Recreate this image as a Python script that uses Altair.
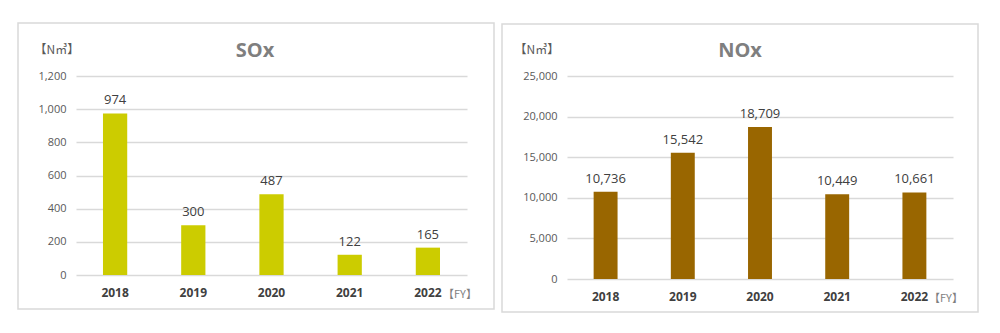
import altair as alt
import pandas as pd

years = ["2018", "2019", "2020", "2021", "2022"]
sox = [974, 300, 487, 122, 165]
nox = [10736, 15542, 18709, 10449, 10661]

FONT = "Open Sans"
CJK = "Noto Sans CJK JP"
GRID = "#d9d9d9"


def panel(values, title, color, ymax, ystep, width, height, border, unit_x, title_x):
    df = pd.DataFrame({"year": years, "value": values})
    base = alt.Chart(df)
    x = alt.X("year:N", sort=years, title=None,
              scale=alt.Scale(paddingInner=0.69, paddingOuter=0.345),
              axis=alt.Axis(labelAngle=0, labelFontWeight="bold", labelFontSize=12,
                            labelColor="#404040", labelFont=FONT, domain=False,
                            ticks=False, labelPadding=12))
    y = alt.Y("value:Q", title="【N㎥】",
              scale=alt.Scale(domain=[0, ymax], nice=False),
              axis=alt.Axis(values=list(range(0, ymax + 1, ystep)), format=",.0f",
                            labelOverlap=False,
                            domain=False, ticks=False, labelPadding=10,
                            labelFontSize=11, labelColor="#595959", labelFont=FONT,
                            gridColor=GRID, gridWidth=1.5,
                            titleAngle=0, titleX=unit_x, titleY=-27,
                            titleAlign="left", titleBaseline="middle",
                            titleFontWeight="normal", titleFontSize=12,
                            titleColor="#595959", titleFont=CJK))
    bars = base.mark_bar(color=color).encode(x=x, y=y)
    labels = base.mark_text(baseline="bottom", dy=-6, fontSize=13,
                            color="#404040", font=FONT).encode(
        x=x, y=y, text=alt.Text("value:Q", format=",.0f"))
    one = alt.Chart(pd.DataFrame({"t": [title]}))
    frame = one.mark_rect(fill="white", fillOpacity=0, stroke=GRID, strokeWidth=1.5).encode(
        x=alt.value(border[0]), x2=alt.value(border[1]),
        y=alt.value(border[2]), y2=alt.value(border[3]))
    ttl = one.mark_text(fontSize=20, fontWeight="bold", color="#7f7f7f",
                        font=FONT, baseline="middle").encode(
        x=alt.value(title_x), y=alt.value(-25), text="t:N")
    fy = alt.Chart(pd.DataFrame({"t": ["【FY】"]})).mark_text(
        fontSize=11, color="#7f7f7f", font=CJK, align="left",
        baseline="middle").encode(
        x=alt.value(width - 24), y=alt.value(height + 20), text="t:N")
    return alt.layer(frame, bars, labels, ttl, fy).properties(width=width, height=height)


left = panel(sox, "SOx", "#cccc00", 1200, 200, 391, 199, (-58, 418, -53, 233), -42, 179)
right = panel(nox, "NOx", "#996600", 25000, 5000, 386, 203, (-65, 411, -52, 236), -53, 173)

chart = alt.hconcat(left, right, spacing=6).properties(
    padding={"left": 17, "top": 22, "right": 0, "bottom": 0},
    background="white",
).configure_view(stroke=None)

chart.save("out.html", embed_options={"renderer": "svg", "actions": False})
